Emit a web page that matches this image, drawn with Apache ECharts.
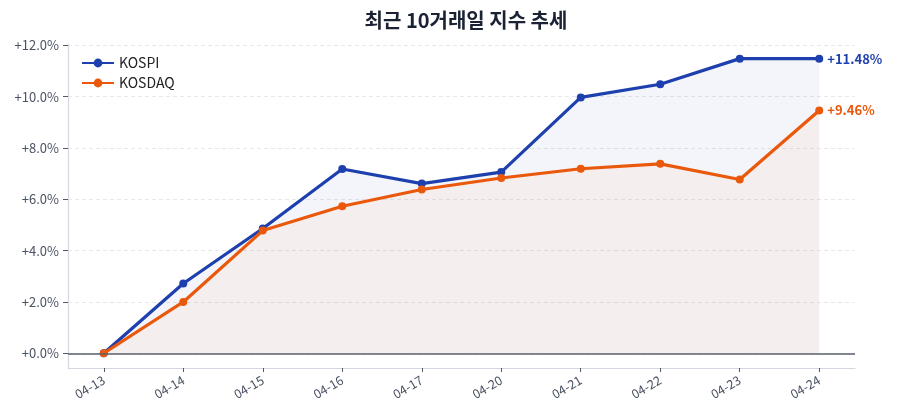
<!DOCTYPE html>
<html>
<head>
<meta charset="utf-8">
<script src="https://cdn.jsdelivr.net/npm/echarts@6/dist/echarts.min.js"></script>
<style>html,body{margin:0;padding:0;background:#fff;}#c{width:900px;height:420px;}</style>
</head>
<body>
<div id="c"></div>
<script>
const titleText = '최근 10거래일 지수 추세';
const dates = ['04-13','04-14','04-15','04-16','04-17','04-20','04-21','04-22','04-23','04-24'];
const kospi = [0, 2.72, 4.86, 7.18, 6.61, 7.06, 9.97, 10.48, 11.48, 11.48];
const kosdaq = [0, 2.00, 4.78, 5.73, 6.38, 6.83, 7.19, 7.38, 6.77, 9.46];
const yTicks = [0, 2, 4, 6, 8, 10, 12];

const FONT = "'Noto Sans CJK KR','Noto Sans',sans-serif";
const idx = dates.map((d, i) => i);
const toPts = arr => arr.map((v, i) => [i, v]);
const fmt = v => (v >= 0 ? '+' : '') + v.toFixed(1) + '%';

const chart = echarts.init(document.getElementById('c'), null, {renderer: 'canvas'});
chart.setOption({
  animation: false,
  backgroundColor: '#ffffff',
  textStyle: {fontFamily: FONT},
  title: {
    text: titleText, left: 461, top: 5, textAlign: 'center',
    textStyle: {fontFamily: FONT, fontSize: 20, fontWeight: 'bold', color: '#1a2233'}
  },
  legend: {
    orient: 'vertical', left: 76, top: 51, itemGap: 6,
    itemWidth: 32, itemHeight: 11,
    textStyle: {fontFamily: FONT, fontSize: 14, color: '#222'},
    data: ['KOSPI', 'KOSDAQ']
  },
  grid: {left: 68, right: 45, top: 44, bottom: 52, containLabel: false},
  xAxis: {
    type: 'value', min: -0.45, max: 9.45,
    axisLine: {show: true, onZero: false, lineStyle: {color: '#d3d7df', width: 1.2}},
    axisTick: {show: true, customValues: idx, length: 4, lineStyle: {color: '#555a66'}},
    axisLabel: {
      customValues: idx, rotate: 30, margin: 11,
      fontFamily: FONT, fontSize: 12.5, color: '#4a5263',
      formatter: v => dates[Math.round(v)]
    },
    splitLine: {show: false}
  },
  yAxis: {
    type: 'value', min: -0.574, max: 12.05,
    axisLine: {show: true, onZero: false, lineStyle: {color: '#d3d7df', width: 1.2}},
    axisTick: {show: true, customValues: yTicks, length: 5, lineStyle: {color: '#555a66'}},
    axisLabel: {
      customValues: yTicks, margin: 9,
      fontFamily: FONT, fontSize: 13, color: '#4a5263',
      formatter: v => fmt(v)
    },
    splitLine: {show: true, lineStyle: {color: '#e6e8ec', type: [4, 3], width: 1}}
  },
  series: [
    {
      name: 'KOSPI', type: 'line', data: toPts(kospi),
      symbol: 'circle', symbolSize: 8,
      lineStyle: {color: '#1e3fae', width: 3.2},
      itemStyle: {color: '#1e3fae'},
      areaStyle: {color: 'rgba(30,64,175,0.07)'},
      endLabel: {
        show: true, distance: 8, fontFamily: FONT, fontSize: 13, fontWeight: 'bold', color: '#1e3fae',
        formatter: p => '+' + p.value[1].toFixed(2) + '%'
      },
      markLine: {
        silent: true, symbol: 'none', label: {show: false},
        lineStyle: {color: '#5a5f6e', width: 1.6, type: 'solid'},
        data: [{yAxis: 0}]
      },
      z: 3
    },
    {
      name: 'KOSDAQ', type: 'line', data: toPts(kosdaq),
      symbol: 'circle', symbolSize: 8,
      lineStyle: {color: '#ea580c', width: 3.2},
      itemStyle: {color: '#ea580c'},
      areaStyle: {color: 'rgba(249,115,22,0.075)'},
      endLabel: {
        show: true, distance: 8, fontFamily: FONT, fontSize: 13, fontWeight: 'bold', color: '#ea580c',
        formatter: p => '+' + p.value[1].toFixed(2) + '%'
      },
      z: 4
    }
  ]
});
</script>
</body>
</html>
